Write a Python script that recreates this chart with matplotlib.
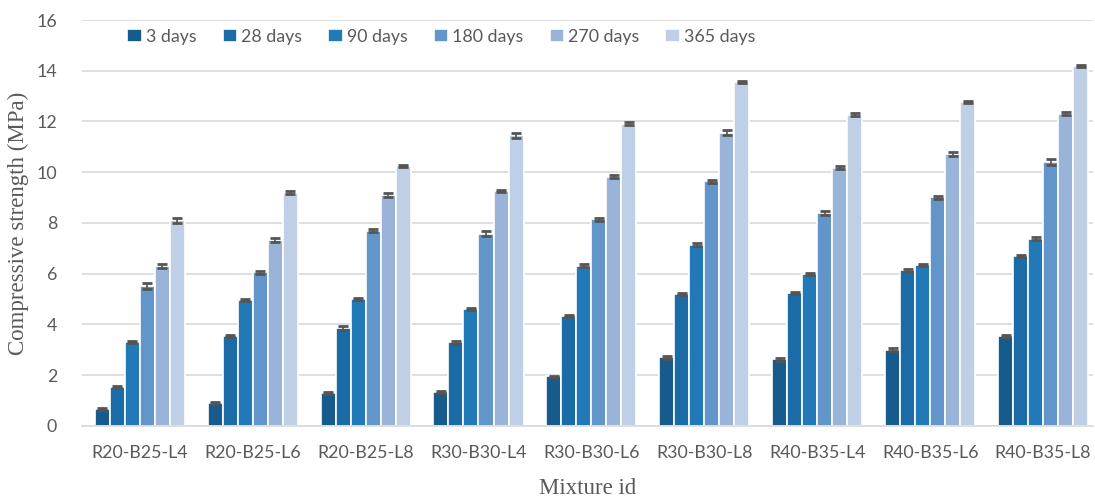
import numpy as np
import matplotlib.pyplot as plt

mixtures = ['R20-B25-L4', 'R20-B25-L6', 'R20-B25-L8', 'R30-B30-L4', 'R30-B30-L6',
            'R30-B30-L8', 'R40-B35-L4', 'R40-B35-L6', 'R40-B35-L8']
ages = ['3 days', '28 days', '90 days', '180 days', '270 days', '365 days']

d3 = [0.65, 0.90, 1.30, 1.35, 1.95, 2.70, 2.62, 3.00, 3.53]
d28 = [1.55, 3.55, 3.85, 3.30, 4.35, 5.18, 5.24, 6.13, 6.68]
d90 = [3.32, 4.95, 5.00, 4.62, 6.32, 7.15, 6.00, 6.36, 7.38]
d180 = [5.50, 6.05, 7.70, 7.58, 8.14, 9.64, 8.40, 9.02, 10.42]
d270 = [6.30, 7.32, 9.10, 9.27, 9.82, 11.55, 10.18, 10.72, 12.30]
d365 = [8.10, 9.20, 10.25, 11.45, 11.92, 13.55, 12.27, 12.77, 14.20]

e3 = [0.04, 0.04, 0.04, 0.04, 0.03, 0.05, 0.06, 0.05, 0.04]
e28 = [0.04, 0.04, 0.09, 0.06, 0.04, 0.04, 0.04, 0.05, 0.04]
e90 = [0.04, 0.04, 0.04, 0.04, 0.05, 0.04, 0.04, 0.04, 0.06]
e180 = [0.12, 0.05, 0.05, 0.10, 0.07, 0.07, 0.07, 0.06, 0.12]
e270 = [0.07, 0.09, 0.08, 0.04, 0.06, 0.10, 0.06, 0.07, 0.06]
e365 = [0.09, 0.04, 0.05, 0.10, 0.05, 0.05, 0.06, 0.05, 0.04]

colors = ['#175b8c', '#1b6ba6', '#2279b8', '#6296ca', '#99b4d8', '#bfcfe5']

series = [d3, d28, d90, d180, d270, d365]
errs = [e3, e28, e90, e180, e270, e365]

fig = plt.figure(figsize=(10.95, 5.01), dpi=100)
ax = fig.add_axes([0.075, 0.150, 0.923, 0.810])

x = np.arange(len(mixtures))
step = 0.133
for i, (vals, err) in enumerate(zip(series, errs)):
    pos = x + (i - 2.5) * step
    ax.bar(pos, vals, width=step, color=colors[i], edgecolor='white',
           linewidth=1.2, label=ages[i], zorder=2)
    ax.errorbar(pos, vals, yerr=err, fmt='none', ecolor='#555555',
                elinewidth=1.2, capsize=3.5, capthick=2, zorder=3)

ax.set_ylim(0, 16)
ax.set_xlim(-0.51, 8.44)
ax.set_yticks(range(0, 17, 2))
ax.set_xticks(x)
ax.set_xticklabels(mixtures)
ax.grid(axis='y', color='#d9d9d9', linewidth=1.2, zorder=0)
for s in ['top', 'right', 'left']:
    ax.spines[s].set_visible(False)
ax.spines['bottom'].set_color('#d9d9d9')
ax.spines['bottom'].set_linewidth(1.2)
ax.tick_params(axis='x', length=0, colors='#595959', labelsize=12.8, pad=14)
ax.tick_params(axis='y', length=0, colors='#595959', labelsize=12.8, pad=18)
for lab in ax.get_xticklabels() + ax.get_yticklabels():
    lab.set_family('Lato')

ax.set_ylabel('Compressive strength (MPa)', family='Liberation Serif', fontsize=16.5,
              color='#595959', labelpad=5)
ax.set_xlabel('Mixture id', family='Liberation Serif', fontsize=16.5,
              color='#595959', labelpad=12)

leg = ax.legend(loc='upper left', bbox_to_anchor=(0.029, 1.018), ncol=6, frameon=False,
                handlelength=0.8, handleheight=0.8, handletextpad=0.25,
                columnspacing=1.46, prop={'family': 'Lato', 'size': 12.8})
for t in leg.get_texts():
    t.set_color('#595959')

fig.savefig('out.png', dpi=100)
